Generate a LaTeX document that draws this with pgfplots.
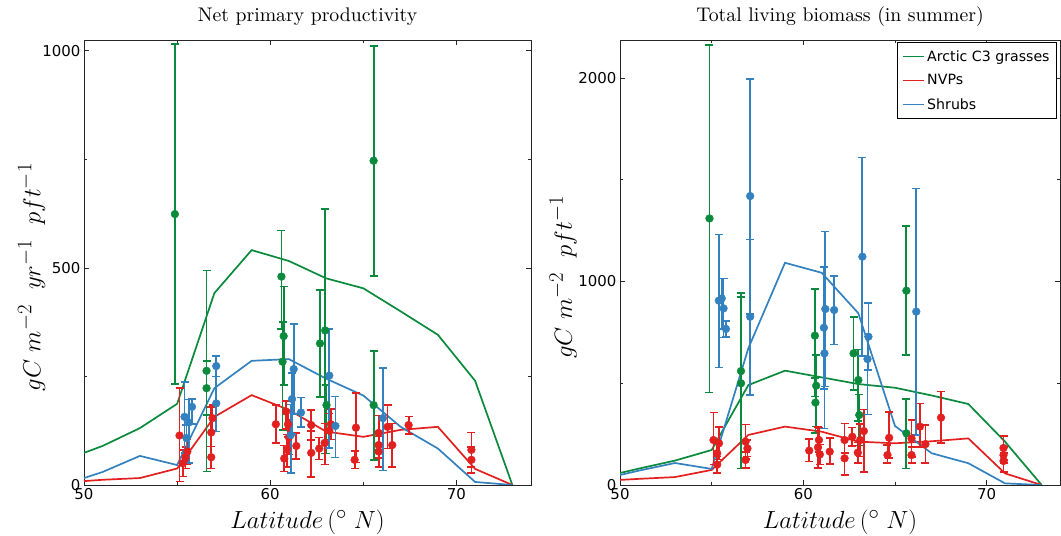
\documentclass[border=0pt]{standalone}
\usepackage{fontspec}
\usepackage{pgfplots}
\usepackage{pgfplotstable}
\pgfplotsset{compat=1.18}
\newfontfamily\dejavu{DejaVu Sans}
\newfontfamily\titlefont{lmroman10-regular}[Extension=.otf]
\definecolor{cgreen}{HTML}{0A8A3C}
\definecolor{cred}{HTML}{E2201F}
\definecolor{cblue}{HTML}{3381BE}

% ---------- NPP model lines ----------
\pgfplotstableread{
x y
50 74
51 90
53 131
55 187
57 442
59 541
61 516
63 476
65 453
67 400
69 346
71 240
73 0
}\npplinegreen
\pgfplotstableread{
x y
50 9
51 12
53 16
55 38
57 157
59 207
61 173
63 123
65 111
67 127
69 134
71 37
73 0
}\npplinered
\pgfplotstableread{
x y
50 16
51 30
53 67
55 46
57 223
59 286
61 290
63 245
65 206
67 134
69 84
71 7
73 0
}\npplineblue

% ---------- NPP observations ----------
\pgfplotstableread{
x y ep em
54.88 624 392 392
56.58 263 231 232
56.58 223 63 62
60.60 480 106 120
60.72 343 114 113
60.66 284 92 157
62.67 326 123 123
62.95 356 280 283
63.02 184 46 111
65.55 747 264 265
65.55 184 125 126
}\nppgreen
\pgfplotstableread{
x y ep em
55.13 114 109 106
55.30 50 30 30
55.45 63 25 25
55.55 77 28 28
56.83 121 59 83
56.90 154 30 30
56.83 64 25 26
60.30 140 44 43
60.75 61 30 30
60.85 169 25 40
60.90 81 35 40
60.95 140 30 30
61.00 110 40 40
61.40 90 30 30
62.20 138 35 35
62.20 74 50 55
62.63 84 25 25
62.92 97 45 50
63.17 125 40 40
63.25 140 35 35
64.60 132 80 80
64.53 58 20 20
65.82 120 40 40
65.82 92 30 30
65.82 77 35 35
66.30 134 50 50
66.55 92 50 50
67.43 138 20 20
70.80 81 40 40
70.80 58 30 30
}\nppred
\pgfplotstableread{
x y ep em
55.40 157 80 83
55.63 144 53 94
55.80 180 18 40
55.50 108 30 30
57.10 274 23 24
57.10 188 62 65
61.26 267 104 104
61.17 198 60 80
61.10 115 70 88
61.65 167 35 33
63.17 252 107 167
63.50 136 68 73
66.05 154 116 121
}\nppblue

% ---------- Biomass model lines ----------
\pgfplotstableread{
x y
50 59
51 80
53 120
55 172
57 491
59 562
61 529
63 496
65 478
67 440
69 398
71 213
73 0
}\biolinegreen
\pgfplotstableread{
x y
50 25
51 30
53 39
55 74
57 246
59 287
61 262
63 213
65 205
67 215
69 229
71 57
73 0
}\biolinered
\pgfplotstableread{
x y
50 49
51 70
53 108
55 79
57 672
59 1092
61 1043
63 844
65 290
67 156
69 107
71 8
73 0
}\biolineblue

% ---------- Biomass observations ----------
\pgfplotstableread{
x y ep em
54.88 1310 852 856
56.60 560 385 478
56.60 500 425 418
60.63 734 228 300
60.70 488 150 200
60.66 405 120 150
62.74 647 180 180
63.00 516 150 200
63.05 344 100 150
65.62 955 318 316
65.62 254 170 172
}\biogreen
\pgfplotstableread{
x y ep em
55.10 221 136 120
55.30 156 50 50
55.40 205 80 80
55.30 100 40 40
56.85 213 85 85
56.85 123 40 40
56.95 180 40 40
60.32 169 56 54
60.80 185 100 100
60.85 221 60 60
60.90 150 50 50
61.44 164 68 61
62.25 221 82 65
62.25 131 98 82
62.67 237 45 45
62.97 159 50 50
63.10 221 80 80
63.30 265 107 200
64.68 232 128 100
64.59 147 50 40
65.90 229 90 90
65.90 147 40 40
66.36 287 114 100
66.66 201 94 94
67.51 331 128 126
70.92 182 59 60
70.92 147 40 40
70.92 118 40 54
}\biored
\pgfplotstableread{
x y ep em
55.39 906 326 328
55.55 917 97 150
55.65 868 146 144
55.78 767 40 40
57.10 1420 575 580
57.10 827 380 385
61.20 865 380 380
61.15 647 423 369
61.12 773 300 300
61.68 860 168 169
63.22 1122 488 488
63.55 729 164 164
63.50 619 110 272
66.16 852 606 606
}\bioblue

\pgfplotsset{
  myaxis/.style={
    scale only axis, height=445bp, xmin=50, xmax=74, ymin=0,
    xtick={50,60,70}, minor xtick={55,65},
    tick label style={font=\dejavu\fontsize{15}{18}\selectfont},
    /pgf/number format/assume math mode=true,
    /pgf/number format/1000 sep={},
    axis line style={line width=0.9bp, black!85},
    tick style={black!85, line width=0.7bp},
    major tick length=5bp, minor tick length=3bp,
    title style={font=\titlefont\fontsize{19.8}{24}\selectfont, at={(axis description cs:0.5,1)}, anchor=base, yshift=13bp},
    xlabel style={font=\fontsize{24.88}{30}\selectfont, at={(axis description cs:0.5,0)}, anchor=center, yshift=-37bp},
    ylabel style={font=\fontsize{24.88}{30}\selectfont, anchor=center},
    xlabel={$Latitude\,(^{\circ}\;N)$},
  },
  modelline/.style={line width=1.7bp, no marks},
  obs/.style={only marks, mark=*, mark size=3.9bp, forget plot,
    error bars/y dir=both, error bars/y explicit,
    error bars/error bar style={line width=1.8bp},
    error bars/error mark options={line width=1.6bp, mark size=4bp, rotate=90}},
}

\begin{document}
\begin{tikzpicture}[x=1bp,y=1bp]
\useasboundingbox (-84bp,-51bp) rectangle (977bp,485bp);
% ---------------- left panel ----------------
\begin{axis}[myaxis, at={(0bp,0bp)}, anchor=south west, width=447bp,
  ymax=1025, ytick={0,500,1000}, minor ytick={250,750},
  title={Net primary productivity},
  ylabel={$gC\ m^{-2}\ \ yr^{-1}\ \ pft^{-1}$},
  ylabel style={at={(axis description cs:-0.117,0.467)}},
]
\addplot[modelline, cgreen] table[x=x,y=y] {\npplinegreen};
\addplot[modelline, cred] table[x=x,y=y] {\npplinered};
\addplot[modelline, cblue] table[x=x,y=y] {\npplineblue};
\addplot[obs, cgreen] table[x=x,y=y,y error plus=ep,y error minus=em] {\nppgreen};
\addplot[obs, cred] table[x=x,y=y,y error plus=ep,y error minus=em] {\nppred};
\addplot[obs, cblue] table[x=x,y=y,y error plus=ep,y error minus=em] {\nppblue};
\end{axis}
% ---------------- right panel ----------------
\begin{axis}[myaxis, at={(536bp,0bp)}, anchor=south west, width=440bp,
  ymax=2187, ytick={0,1000,2000}, minor ytick={500,1500},
  title={Total living biomass (in summer)},
  ylabel={$gC\ m^{-2}\ \ pft^{-1}$},
  ylabel style={at={(axis description cs:-0.1295,0.467)}},
  legend style={at={(1,1)}, anchor=north east, xshift=-3bp, yshift=-2bp,
    font=\dejavu\fontsize{14.2}{17}\selectfont, draw=black, line width=0.8bp,
    inner xsep=5bp, inner ysep=6bp, row sep=8bp, cells={anchor=west}},
  legend image code/.code={\draw[#1] (0bp,0bp) -- (21bp,0bp);},
]
\addplot[modelline, color=cgreen, draw=cgreen] table[x=x,y=y] {\biolinegreen};
\addplot[modelline, color=cred, draw=cred] table[x=x,y=y] {\biolinered};
\addplot[modelline, color=cblue, draw=cblue] table[x=x,y=y] {\biolineblue};
\addplot[obs, cgreen] table[x=x,y=y,y error plus=ep,y error minus=em] {\biogreen};
\addplot[obs, cred] table[x=x,y=y,y error plus=ep,y error minus=em] {\biored};
\addplot[obs, cblue] table[x=x,y=y,y error plus=ep,y error minus=em] {\bioblue};
\legend{Arctic C3 grasses, NVPs, Shrubs}
\end{axis}
\end{tikzpicture}
\end{document}
